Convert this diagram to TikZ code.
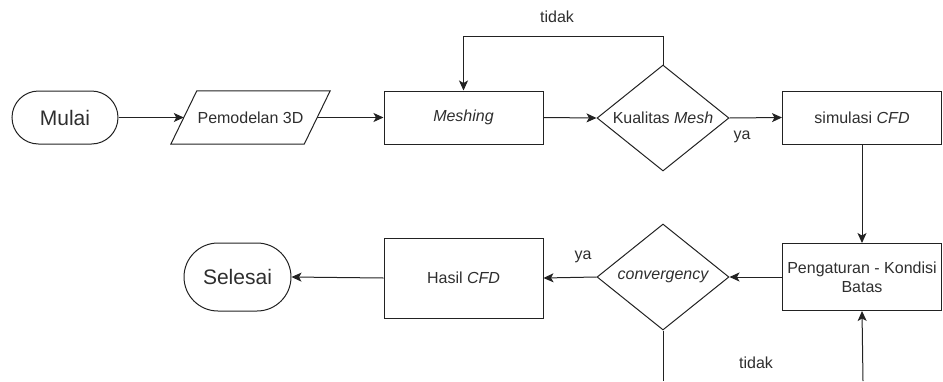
\documentclass[tikz,border=0pt]{standalone}
\usepackage{fontspec}
\setmainfont{Liberation Sans}
\usetikzlibrary{shapes.geometric,arrows.meta}
\definecolor{ink}{HTML}{222222}
\definecolor{txt}{HTML}{2E2E2E}
\begin{document}
\begin{tikzpicture}[x=1pt,y=-1pt,
  every node/.style={text=txt,font=\fontsize{16}{19}\selectfont},
  base/.style={draw=ink,line width=1pt,inner sep=0pt},
  terminal/.style={base,rectangle,font=\fontsize{21}{24}\selectfont},
  procbox/.style={base,rectangle,minimum width=159pt},
  decision/.style={base,diamond,minimum width=132pt,minimum height=106pt,shape aspect=1.245},
  iobox/.style={rectangle,inner sep=0pt,minimum width=133pt,minimum height=53pt},
  flow/.style={draw=ink,line width=1pt,-{Stealth[length=10pt,width=9pt,inset=2.5pt]}},
  plain/.style={draw=ink,line width=1pt},
  lbl/.style={inner sep=0pt}
]
\useasboundingbox (0,0) rectangle (943,381);

% top row
\node[terminal,minimum width=106pt,minimum height=53pt,rounded corners=26.5pt] (start) at (65,117.5) {Mulai};
% input/output parallelogram around the text node (slant of 26pt)
\node[iobox] (model) at (250.5,117.5) {Pemodelan 3D};
\draw[draw=ink,line width=1pt,line join=miter]
  ([xshift=-13pt]model.south west) -- ([xshift=-13pt]model.south east)
  -- ([xshift=13pt]model.north east) -- ([xshift=13pt]model.north west) -- cycle;
\node[procbox,minimum height=53pt] (mesh) at (463.5,117.5) {\itshape Meshing};
\node[decision] (qual) at (663,118) {Kualitas \itshape Mesh};
\node[procbox,minimum height=53pt] (sim) at (862,117.5) {simulasi \itshape CFD};

% bottom row
\node[procbox,minimum height=67pt,align=center] (bc) at (862,277) {Pengaturan - Kondisi\\Batas};
\node[decision] (conv) at (663,277) {\itshape convergency};
\node[procbox,minimum height=80pt] (res) at (463.5,278) {Hasil \itshape CFD};
\node[terminal,minimum width=107pt,minimum height=68pt,rounded corners=34pt] (stop) at (237.5,277) {Selesai};

% free ends at the lower edge
\coordinate (loopout) at (663,381);
\coordinate (loopin) at (863,381);

% connectors
\draw[flow] (start.east) -- (model.west);
\draw[flow] (model.east) -- (mesh.west);
\draw[flow] (mesh.east) -- (qual.west);
\draw[flow] (qual.north) -- ++(0,-28) -| (mesh.north);
\draw[flow] (qual.east) -- (sim.west);
\draw[flow] (sim.south) -- (bc.north);
\draw[flow] (bc.west) -- (conv.east);
\draw[flow] (conv.west) -- (res.east);
\draw[flow] (res.west) -- (stop.east);
\draw[plain] (conv.south) -- (loopout);
\draw[flow] (loopin) -- (bc.south);

% branch labels
\node[lbl] (l1) at (557,17) {tidak};
\node[lbl] (l2) at (742,137) {ya};
\node[lbl] (l3) at (583,257) {ya};
\node[lbl] (l4) at (756,363) {tidak};
\end{tikzpicture}
\end{document}
